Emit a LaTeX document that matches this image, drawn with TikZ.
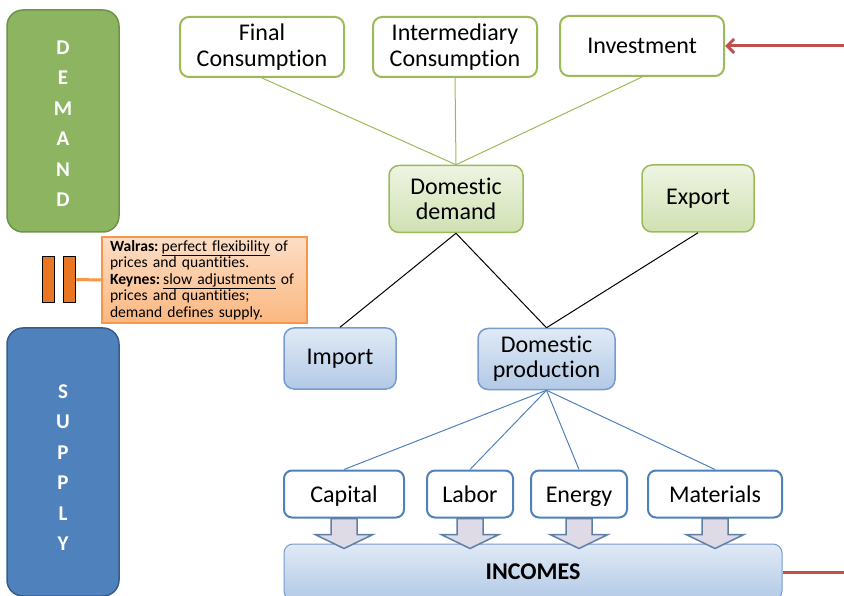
\documentclass[tikz,border=0pt]{standalone}
\usepackage{fontspec}
\setmainfont{Carlito}[Ligatures=NoCommon]
\usetikzlibrary{arrows.meta}

\definecolor{demandfill}{RGB}{141,180,96}
\definecolor{demanddraw}{RGB}{112,146,75}
\definecolor{supplyfill}{RGB}{79,129,189}
\definecolor{supplydraw}{RGB}{56,93,138}
\definecolor{usegreen}{RGB}{155,187,89}
\definecolor{lightgreentop}{RGB}{238,244,226}
\definecolor{lightgreenbot}{RGB}{208,225,178}
\definecolor{lightbluetop}{RGB}{224,234,246}
\definecolor{lightbluebot}{RGB}{178,201,230}
\definecolor{bluedraw}{RGB}{120,155,205}
\definecolor{factorblue}{RGB}{79,129,189}
\definecolor{arrowfill}{RGB}{222,218,230}
\definecolor{arrowdraw}{RGB}{94,127,168}
\definecolor{redline}{RGB}{192,80,77}
\definecolor{notetop}{RGB}{253,222,198}
\definecolor{notebot}{RGB}{250,183,128}
\definecolor{notedraw}{RGB}{247,150,70}
\definecolor{barfill}{RGB}{232,118,34}

\tikzstyle{side bar}=[rounded corners=16pt,minimum width=112pt,text=white,align=center,line width=1.5pt,font=\fontsize{21}{30.4}\selectfont\bfseries]
\tikzstyle{demand bar}=[side bar,fill=demandfill,draw=demanddraw]
\tikzstyle{supply bar}=[side bar,fill=supplyfill,draw=supplydraw]
\tikzstyle{use node}=[draw=usegreen,line width=2pt,fill=white,rounded corners=9pt,minimum width=164pt,minimum height=60pt,align=center,font=\fontsize{24}{26}\selectfont]
\tikzstyle{green node}=[draw=usegreen,line width=1.5pt,top color=lightgreentop,bottom color=lightgreenbot,rounded corners=10pt,minimum height=67pt,align=center,font=\fontsize{24}{25}\selectfont]
\tikzstyle{blue node}=[draw=bluedraw,line width=1.5pt,top color=lightbluetop,bottom color=lightbluebot,rounded corners=10pt,minimum height=61pt,align=center,font=\fontsize{24}{25}\selectfont]
\tikzstyle{factor node}=[draw=factorblue,line width=2pt,fill=white,rounded corners=8pt,minimum height=47pt,text height=22pt,text depth=5pt,font=\fontsize{24}{26}\selectfont]
\tikzstyle{income node}=[draw=bluedraw,line width=1pt,top color=lightbluetop,bottom color=lightbluebot,rounded corners=9pt,minimum width=498pt,minimum height=56pt,font=\fontsize{24}{26}\selectfont]
\tikzstyle{note}=[draw=notedraw,line width=1.5pt,top color=notetop,bottom color=notebot,minimum width=205pt,minimum height=86pt,text width=189pt,align=left,font=\fontsize{15.6}{16.4}\selectfont]
\tikzstyle{equal bar}=[draw=black,line width=1.5pt,fill=barfill,minimum width=12pt,minimum height=46pt,inner sep=0pt]
\tikzstyle{green edge}=[draw,usegreen,line width=1pt]
\tikzstyle{black edge}=[draw,black,line width=1pt]
\tikzstyle{blue edge}=[draw,factorblue,line width=1pt]
\tikzstyle{orange edge}=[draw,notedraw,line width=3pt]
\tikzstyle{red edge}=[draw,redline,line width=3pt]
\tikzstyle{income arrow}=[draw=arrowdraw,fill=arrowfill,line width=1.5pt,line join=miter]

\begin{document}
\begin{tikzpicture}[x=1pt,y=-1pt]
     \useasboundingbox (0,0) rectangle (844,596);
     % The two side bars
     \node[demand bar,minimum height=222pt] (demand) at (63,121) {D\rule{0pt}{19pt}\\E\\M\\A\\N\\D};
     \node[supply bar,minimum height=268pt] (supply) at (63,462) {S\rule{0pt}{25pt}\\U\\P\\P\\L\\Y};

     % First we draw the uses of demand
     \foreach \pos/\name/\txt in {{(262,47)/final/Final\\Consumption},
       {(455,47)/inter/Intermediary\\Consumption}, {(642,46)/invest/Investment}}
     \node[use node] (\name) at \pos {\txt};

     \node[green node,minimum width=134pt] (domdem) at (456,199) {Domestic\\demand};
     \node[green node,minimum width=112pt] (export) at (698,198.5) {Export};
     \node[blue node,minimum width=112pt] (import) at (340,358.5) {Import};
     \node[blue node,minimum width=137pt] (domprod) at (546.5,359) {Domestic\\production};

     % Production factors and incomes
     \foreach \pos/\name/\txt/\w in {{(344,494)/capital/Capital/120}, {(470,494)/labor/Labor/86},
       {(579,494)/energy/Energy/96}, {(715,494)/materials/Materials/134}}
     \node[factor node,minimum width=\w pt] (\name) at \pos {\txt};

     \node[income node] (incomes) at (533,572) {\textbf{INCOMES}};

     % Note on the equilibrium
     \node[equal bar] (eqa) at (48.5,279.5) {};
     \node[equal bar] (eqb) at (69.5,279.5) {};
     \node[note] (note) at (204.5,280) {\textbf{Walras:}\kern0.2em\underline{perfect flexibility} of\\
       prices and quantities.\\
       \textbf{Keynes:}\kern0.2em\underline{slow adjustments} of\\
       prices and quantities;\\
       demand defines supply.};

     % Connect the nodes
     \foreach \source in {final,inter,invest}
     \path[green edge] (\source.south) -- (domdem.north);

     \foreach \source/\dest in {domdem/import,domdem/domprod,export/domprod}
     \path[black edge] (\source.south) -- (\dest.north);

     \foreach \dest in {capital,labor,energy,materials}
     \path[blue edge] (domprod.south) -- (\dest.north);

     \foreach \source in {capital,labor,energy,materials}
     \path[income arrow] ([xshift=-13pt]\source.south) -- ++(0,16) -- ++(-16,0) -- ++(29,14)
       -- ++(29,-14) -- ++(-16,0) -- ++(0,-16) -- cycle;

     \path[orange edge] (eqb.east) -- (note.west);

     \coordinate (invfrom) at (844,46);
     \coordinate (incto) at (844,572);
     \path[red edge,-{Straight Barb[length=7pt,width=14pt]}] (invfrom) -- (invest.east);
     \path[red edge] (incomes.east) -- (incto);
\end{tikzpicture}
\end{document}
